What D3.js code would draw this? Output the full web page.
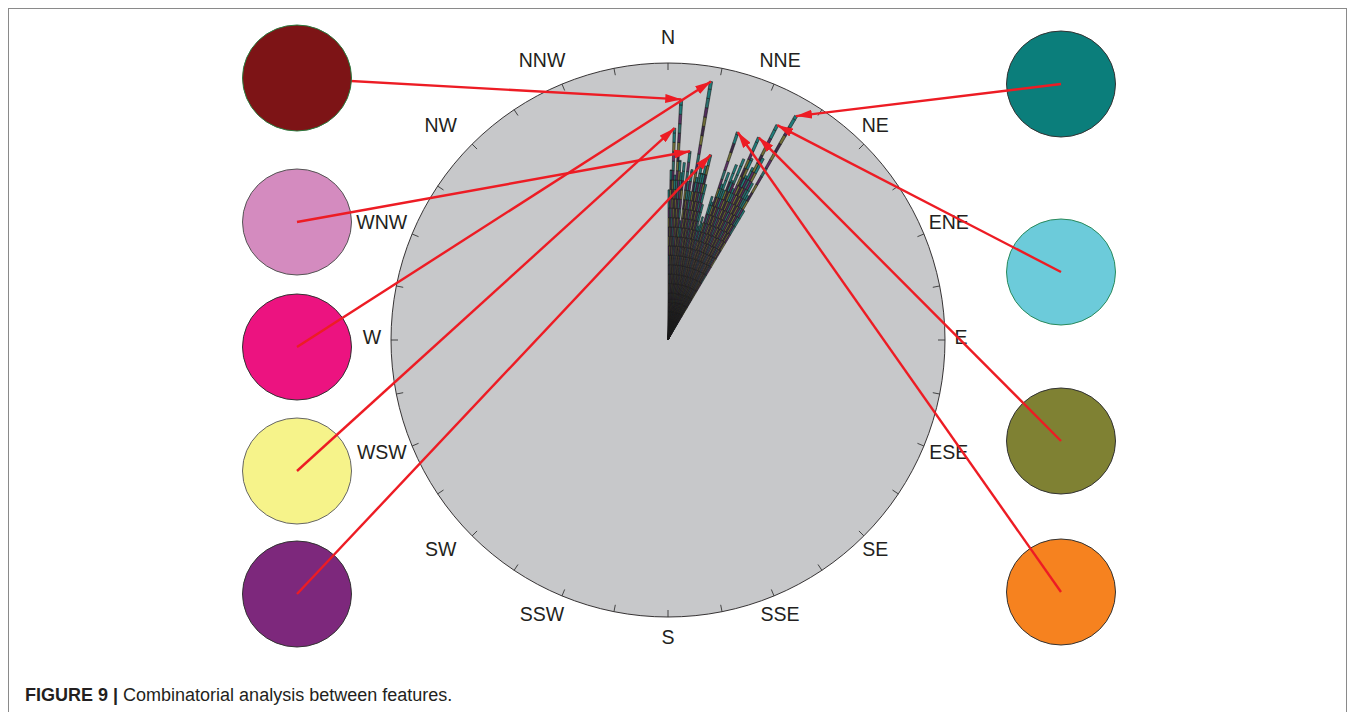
<!DOCTYPE html>
<html>
<head>
<meta charset="utf-8">
<script src="https://cdn.jsdelivr.net/npm/d3@7"></script>
<style>
  html, body { margin: 0; padding: 0; background: #fff; }
  svg { display: block; }
  text { font-family: "Liberation Sans", Arial, Helvetica, sans-serif; fill: #231f20; }
</style>
</head>
<body>
<svg id="chart" width="1358" height="712"></svg>
<script>
// Compass directions shown round the rose
const directions = ['N','NNE','NE','ENE','E','ESE','SE','SSE','S','SSW','SW','WSW','W','WNW','NW','NNW'];

// Rose bins: centre angle (degrees, clockwise from north) and bar length
const binWidth = 0.7;
const binAngles = [0.35,1.05,1.75,2.45,3.15,3.85,4.55,5.25,5.95,6.65,7.35,8.05,8.75,9.45,10.15,10.85,
  11.55,12.25,12.95,13.65,14.35,15.05,15.75,16.45,17.15,17.85,18.55,19.25,19.95,20.65,21.35,22.05,
  22.75,23.45,24.15,24.85,25.55,26.25,26.95,27.65,28.35,29.05,29.75,30.45];
const binValues = [54.2,61.4,76.5,59.6,87.0,65.0,60.6,64.3,43.3,68.6,57.8,62.1,54.2,94.6,59.6,65.7,
  61.4,64.3,68.6,57.8,50.5,42.6,46.2,44.0,54.2,52.3,79.1,59.6,64.3,57.8,67.9,62.1,
  70.8,59.6,80.1,72.2,65.7,69.3,87.0,74.0,64.3,59.6,93.1,54.2];

// Features, their fill colours and the bin each one points at
const featureFills   = ['#7d1416','#d48bbf','#ec1380','#f6f38a','#7d287c','#0b7e7b','#6ccbda','#7f8133','#f6821f'];
const featureStrokes = ['#2a7a3e','#555555','#333333','#666666','#333333','#333333','#2a8a5c','#333333','#333333'];
const featureTargets = [4, 9, 13, 2, 18, 42, 38, 34, 26];

// Layout
const cx = 668, cy = 340, R = 277;
const leftX = 297, rightX = 1061;
const rowsY = [78, 222, 347, 471, 594, 84, 272, 441, 592];
const circleRx = 54.5, circleRy = 53;

const svg = d3.select('#chart');

// Figure frame
svg.append('rect')
  .attr('x', 8.5).attr('y', 8.5).attr('width', 1338).attr('height', 720)
  .attr('fill', 'none').attr('stroke', '#8a8a8a').attr('stroke-width', 1);

const r = d3.scaleLinear().domain([0, 100]).range([0, R]);
const rad = d => d * Math.PI / 180;

const g = svg.append('g').attr('transform', `translate(${cx},${cy})`);

// Background disc
g.append('circle').attr('r', R).attr('fill', '#c7c8ca').attr('stroke', '#231f20').attr('stroke-width', 0.9);

// Tick marks every 11.25 degrees
const tickAngles = d3.range(0, 360, 11.25);
g.selectAll('line.tick').data(tickAngles).join('line')
  .attr('class', 'tick')
  .attr('x1', d => Math.sin(rad(d)) * R)
  .attr('y1', d => -Math.cos(rad(d)) * R)
  .attr('x2', d => Math.sin(rad(d)) * (R - 7))
  .attr('y2', d => -Math.cos(rad(d)) * (R - 7))
  .attr('stroke', '#333').attr('stroke-width', 0.9);

// Direction labels
const labelRy = 300, labelRxRight = 293, labelRxLeft = 296;
g.selectAll('text.dir').data(directions).join('text')
  .attr('class', 'dir')
  .attr('x', (d, i) => {
    const a = rad(i * 22.5);
    const s = Math.sin(a);
    if (s < -0.1) return s * labelRxLeft - 18 * Math.abs(Math.sin(2 * a));
    const wide = s > 0.85 && s < 0.99 ? 10 : 0;
    return s * labelRxRight + wide;
  })
  .attr('y', (d, i) => -Math.cos(rad(i * 22.5)) * labelRy - 3)
  .attr('text-anchor', 'middle')
  .attr('dominant-baseline', 'central')
  .attr('font-size', 19.5)
  .text(d => d);

// Stacked bars of the rose
const segStep = 3.4;
const segColors = ['#6f6d35', '#532c5c', '#2b6e6c', '#5e3066', '#77763a', '#3d2a48'];
const arc = d3.arc();
const bars = g.append('g');
binAngles.forEach((a, i) => {
  const v = binValues[i];
  const a0 = rad(a - binWidth / 2), a1 = rad(a + binWidth / 2);
  const edges = d3.range(0, v, segStep).concat([v]);
  for (let k = 0; k < edges.length - 1; k++) {
    const isTop = k >= edges.length - 3;
    bars.append('path')
      .attr('d', arc({ innerRadius: r(edges[k]), outerRadius: r(edges[k + 1]), startAngle: a0, endAngle: a1 }))
      .attr('fill', isTop ? '#1f7c7a' : segColors[(k + i) % segColors.length])
      .attr('stroke', '#1a1a1a').attr('stroke-width', 0.6);
  }
});

// Arrow head
const defs = svg.append('defs');
defs.append('marker')
  .attr('id', 'head').attr('viewBox', '0 0 16 9')
  .attr('refX', 16).attr('refY', 4.5)
  .attr('markerWidth', 16).attr('markerHeight', 9)
  .attr('markerUnits', 'userSpaceOnUse')
  .attr('orient', 'auto')
  .append('path').attr('d', 'M0,0 L16,4.5 L0,9 Z').attr('fill', '#ed1c24');

const features = featureFills.map((f, i) => ({
  fill: f,
  stroke: featureStrokes[i],
  x: i < 5 ? leftX : rightX,
  y: rowsY[i],
  target: featureTargets[i]
}));
const tip = f => {
  const a = rad(binAngles[f.target]);
  const rr = r(binValues[f.target]);
  return [cx + Math.sin(a) * rr, cy - Math.cos(a) * rr];
};

const drawLine = (sel) => sel
  .attr('x1', d => d.x).attr('y1', d => d.y)
  .attr('x2', d => tip(d)[0]).attr('y2', d => tip(d)[1])
  .attr('stroke', '#ed1c24').attr('stroke-width', 2.4)
  .attr('marker-end', 'url(#head)');

// The first link runs beneath its disc, the rest are drawn over theirs
svg.append('g').selectAll('line').data(features.slice(0, 1)).join('line').call(drawLine);

svg.append('g').selectAll('ellipse').data(features).join('ellipse')
  .attr('cx', d => d.x).attr('cy', d => d.y)
  .attr('rx', circleRx).attr('ry', circleRy)
  .attr('fill', d => d.fill).attr('stroke', d => d.stroke).attr('stroke-width', 1);

svg.append('g').selectAll('line').data(features.slice(1)).join('line').call(drawLine);

// Caption
const cap = svg.append('text').attr('x', 25).attr('y', 701).attr('font-size', 18);
cap.append('tspan').attr('font-weight', 'bold').text('FIGURE 9 | ');
cap.append('tspan').text('Combinatorial analysis between features.');
</script>
</body>
</html>
